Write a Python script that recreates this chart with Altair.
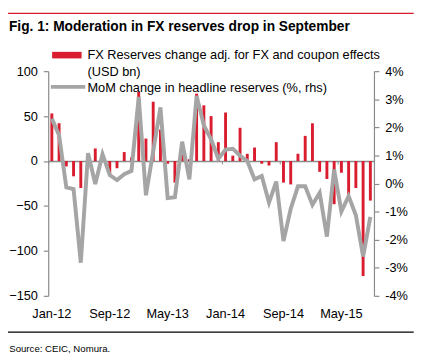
import altair as alt
import pandas as pd

# ---- data -------------------------------------------------------------
month_names = ["Jan", "Feb", "Mar", "Apr", "May", "Jun",
               "Jul", "Aug", "Sep", "Oct", "Nov", "Dec"]
years = ["12", "13", "14", "15"]
months = [f"{m}-{y}" for y in years for m in month_names][:45]   # Jan-12 .. Sep-15

fx_change = [53, 42, -6, -17, -30, 2, 14, 3, -17, -8, 10, 4,
             77, 25, 66, 35, -3, -24, 7, 2, 75, 62, 50, 21,
             54, 6, 37, 8, 15, -3, -5, 21, -24, -26, 8, 28,
             42, -12, -20, -48, -13, -38, -30, -128, -44]

mom_change = [2.31, 1.72, -0.14, -0.20, -2.82, 1.08, -0.02, 1.04, 0.30, 0.12, 0.33, 0.45,
              3.08, -0.42, 1.15, 2.71, -0.52, -0.49, 1.49, 0.15, 3.12, 2.07, 1.57, 0.88,
              1.21, 1.24, 0.99, 0.80, 0.15, 0.27, -0.68, 0.07, -2.05, -0.90, -0.10, -0.10,
              -0.76, -0.33, -1.89, 0.50, -1.00, -0.45, -1.13, -2.60, -1.19]

x_labels = ["Jan-12", "Sep-12", "May-13", "Jan-14", "Sep-14", "May-15"]
left_ticks = [-150, -100, -50, 0, 50, 100]
right_ticks = [-4, -3, -2, -1, 0, 1, 2, 3, 4]

title_text = "Fig. 1: Moderation in FX reserves drop in September"
legend_bar_text = ["FX Reserves change adj. for FX and coupon effects", "(USD bn)"]
legend_line_text = "MoM change in headline reserves (%, rhs)"
source_text = "Source: CEIC, Nomura."

df = pd.DataFrame({"month": months, "fx": fx_change, "mom": mom_change})

# ---- style ------------------------------------------------------------
FONT = "Liberation Sans"
RED = "#d91c2e"
GREY = "#a5a5a5"
AXIS_GREY = "#8a8a8a"
W, H = 332, 229

xscale = alt.Scale(paddingInner=0.6, paddingOuter=0.3)

bars = alt.Chart(df).mark_bar(color=RED).encode(
    x=alt.X("month:N", sort=months, scale=xscale,
            axis=alt.Axis(values=x_labels, title=None, orient="bottom", domain=False,
                          ticks=False, tickSize=0, labelAngle=0, labelFont=FONT,
                          labelFontSize=13, labelColor="black", labelPadding=12)),
    y=alt.Y("fx:Q", scale=alt.Scale(domain=[-150, 100], nice=False, zero=False),
            axis=alt.Axis(values=left_ticks, title=None, orient="left", grid=False,
                          domainColor=AXIS_GREY, domainWidth=1.2, tickColor=AXIS_GREY,
                          tickWidth=1.2, tickSize=5, labelFont=FONT, labelFontSize=13,
                          labelColor="black", labelPadding=6)),
    y2=alt.datum(0),
)

line = alt.Chart(df).mark_line(color=GREY, strokeWidth=4).encode(
    x=alt.X("month:N", sort=months, scale=xscale,
            axis=alt.Axis(values=x_labels, title=None, orient="bottom", labels=False,
                          offset=-(H - H * 100 / 250), domainColor=AXIS_GREY,
                          domainWidth=1.5, tickColor=AXIS_GREY, tickSize=3,
                          bandPosition=-0.75)),
    y=alt.Y("mom:Q", scale=alt.Scale(domain=[-4, 4], nice=False),
            axis=alt.Axis(values=right_ticks, title=None, orient="right", grid=False,
                          labelExpr="datum.value + '%'", domainColor=AXIS_GREY,
                          domainWidth=1.2, tickColor=AXIS_GREY, tickWidth=1.2,
                          tickSize=5, labelFont=FONT, labelFontSize=13,
                          labelColor="black", labelPadding=6)),
)

one = pd.DataFrame({"t": [""]})

def text_layer(txt, x, y, size, weight="normal", baseline="middle"):
    return alt.Chart(one).mark_text(
        text=txt, align="left", baseline=baseline, font=FONT, fontSize=size,
        fontWeight=weight, color="black"
    ).encode(x=alt.value(x), y=alt.value(y))

title = text_layer(title_text, -40, -41, 14, "bold", "alphabetic")
leg1 = text_layer(legend_bar_text[0], 40, -16.3, 13)
leg2 = text_layer(legend_bar_text[1], 40, 1, 13)
leg3 = text_layer(legend_line_text, 40, 17.7, 13)
source = text_layer(source_text, -39.7, 286.5, 9.8, "normal", "alphabetic")

leg_rect = alt.Chart(one).mark_rect(color=RED).encode(
    x=alt.value(4), x2=alt.value(34), y=alt.value(-19.7), y2=alt.value(-13))
leg_line = alt.Chart(one).mark_rule(color=GREY, strokeWidth=4).encode(
    x=alt.value(2.7), x2=alt.value(37.7), y=alt.value(16))
top_rule = alt.Chart(one).mark_rule(color="#d71a2e", strokeWidth=1.3).encode(
    x=alt.value(-41), x2=alt.value(372.5), y=alt.value(-59))
bottom_rule = alt.Chart(one).mark_rule(color="black", strokeWidth=1.2).encode(
    x=alt.value(-41), x2=alt.value(372.5), y=alt.value(266))

chart = alt.layer(
    bars, line, title, leg1, leg2, leg3, source, leg_rect, leg_line, top_rule, bottom_rule
).resolve_scale(y="independent").resolve_axis(x="independent").properties(
    width=W, height=H,
    autosize=alt.AutoSizeParams(type="none"),
    padding={"left": 41, "top": 61, "right": 51, "bottom": 62},
).configure_view(stroke=None)

chart.save("out.html", embed_options={"renderer": "svg", "actions": False})
